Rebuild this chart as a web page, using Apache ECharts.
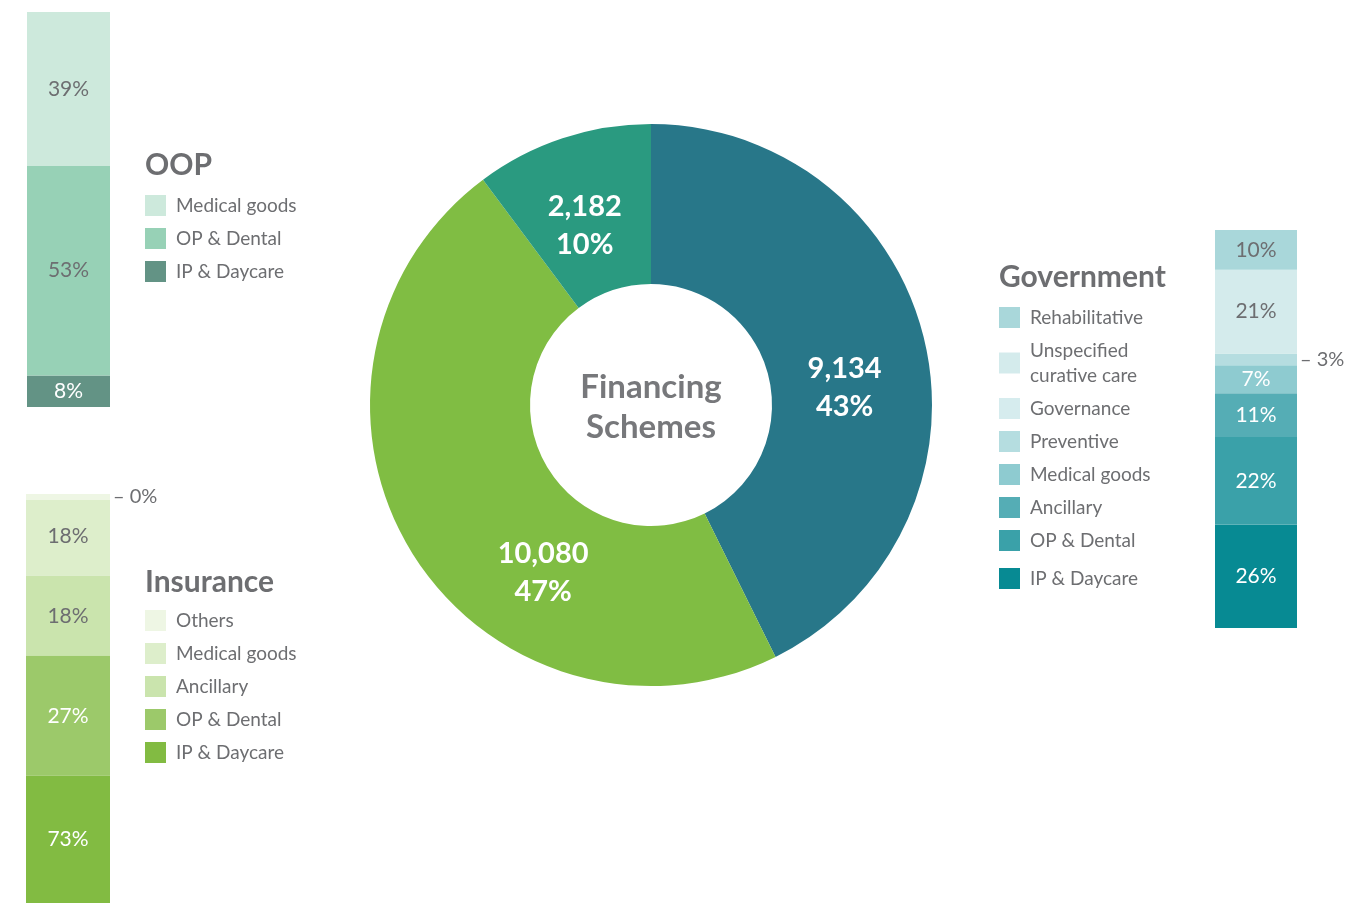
<!DOCTYPE html>
<html>
<head>
<meta charset="utf-8">
<title>Financing Schemes</title>
<script src="https://cdn.jsdelivr.net/npm/echarts@6/dist/echarts.min.js"></script>
<style>
    html, body { margin: 0; padding: 0; background: #fff; }
    #chart { width: 1369px; height: 903px; }
</style>
</head>
<body>
<div id="chart"></div>
<script>
// donut: financing schemes
const schemeNames = ['Government', 'Insurance', 'OOP'];
const schemeValues = [9134, 10080, 2182];

// breakdowns, listed top to bottom as in the legends
const oopItems = ['Medical goods', 'OP & Dental', 'IP & Daycare'];
const oopShares = [39, 53, 8];

const insItems = ['Others', 'Medical goods', 'Ancillary', 'OP & Dental', 'IP & Daycare'];
const insShares = [0.4, 18, 18, 27, 73];

const govItems = ['Rehabilitative', 'Unspecified curative care', 'Governance', 'Preventive', 'Medical goods', 'Ancillary', 'OP & Dental', 'IP & Daycare'];
const govShares = [10, 21, 0, 3, 7, 11, 22, 26];

// colours
const pieColors = ['#287789', '#80bd43', '#2a9a80'];
const pieLabelOffsets = [[-5, 29], [66, 61], [-2, 14]];
const oopColors = ['#cde9dc', '#97d1b6', '#639385'];
const oopLabelColors = ['#6d6e71', '#6d6e71', '#ffffff'];
const insColors = ['#eef6e4', '#ddeecb', '#cae4ad', '#9cc96a', '#82bb42'];
const insLabelColors = ['#6d6e71', '#6d6e71', '#6d6e71', '#ffffff', '#ffffff'];
const govColors = ['#a9d7da', '#d4ebec', '#d6ecee', '#b5dde0', '#8ecbd0', '#55adb5', '#3aa1a9', '#078a93'];
const govLabelColors = ['#6d6e71', '#6d6e71', '#6d6e71', '#6d6e71', '#ffffff', '#ffffff', '#ffffff', '#ffffff'];

const gray = '#6d6e71';
const font = 'Lato';

function sum(arr) {
    return arr.reduce((a, b) => a + b, 0);
}

function barSeries(group, items, shares, colors, labelColors, idx, fromTop) {
    const out = [];
    const order = items.map((_, i) => i);
    if (!fromTop) {
        order.reverse();
    }
    order.forEach((i) => {
        out.push({
            type: 'bar',
            name: group + '|' + items[i],
            stack: group,
            xAxisIndex: idx,
            yAxisIndex: idx,
            barWidth: '100%',
            data: [shares[i]],
            itemStyle: {color: colors[i]},
            label: {
                show: shares[i] > 0,
                position: 'inside',
                formatter: Math.round(shares[i]) + '%',
                color: labelColors[i],
                fontSize: 21,
                fontFamily: font,
            },
            silent: true,
        });
    });
    return out;
}

const oopSeries = barSeries('OOP', oopItems, oopShares, oopColors, oopLabelColors, 0, false);
// insurance bar hangs from the top and runs off the bottom of the page
const insSeries = barSeries('Insurance', insItems, insShares, insColors, insLabelColors, 1, true);
const govSeries = barSeries('Government', govItems, govShares, govColors, govLabelColors, 2, false);

// small slices get their label outside, with a dash
const outside = (s) => {
    s.label.position = 'right';
    s.label.distance = 3;
    s.label.color = gray;
    s.label.fontSize = 20;
    s.label.formatter = '\u2013 ' + s.label.formatter;
};
insSeries.forEach((s) => {
    if (s.name === 'Insurance|Others') {
        s.barMinHeight = 6;
        s.z = 3;
        outside(s);
    }
});
govSeries.forEach((s) => {
    if (s.name === 'Government|Preventive') {
        outside(s);
    }
});

const legendCommon = {
    orient: 'vertical',
    itemWidth: 21,
    itemHeight: 21,
    itemGap: 8,
    icon: 'rect',
    padding: 0,
    selectedMode: false,
    textStyle: {fontSize: 19, color: gray, fontFamily: font, lineHeight: 25, padding: [0, 0, 0, 5]},
    formatter: (name) => name.split('|')[1].replace('Unspecified curative care', 'Unspecified\ncurative care'),
};

const titleStyle = {fontSize: 30, fontWeight: 'bold', color: gray, fontFamily: font};

const govNames = govItems.map((n) => 'Government|' + n);

const chart = echarts.init(document.getElementById('chart'));
chart.setOption({
    animation: false,
    backgroundColor: '#fff',
    title: [
        {text: 'OOP', left: 145, top: 150, padding: 0, textStyle: titleStyle},
        {text: 'Insurance', left: 145, top: 567, padding: 0, textStyle: titleStyle},
        {text: 'Government', left: 999, top: 262, padding: 0, textStyle: titleStyle},
    ],
    legend: [
        Object.assign({data: oopItems.map((n) => 'OOP|' + n), left: 145, top: 193}, legendCommon),
        Object.assign({data: insItems.map((n) => 'Insurance|' + n), left: 145, top: 608}, legendCommon),
        Object.assign({data: govNames.slice(0, 7), left: 999, top: 305}, legendCommon),
        Object.assign({data: govNames.slice(7), left: 999, top: 566}, legendCommon),
    ],
    grid: [
        {left: 27, top: 12, width: 83, height: 395},
        {left: 26, top: 494, width: 84, height: 409},
        {left: 1215, top: 230, width: 82, height: 398},
    ],
    xAxis: [0, 1, 2].map((i) => ({type: 'category', data: [''], show: false, gridIndex: i})),
    yAxis: [
        {type: 'value', min: 0, max: sum(oopShares), show: false, gridIndex: 0},
        {type: 'value', min: 0, max: 92, inverse: true, show: false, gridIndex: 1},
        {type: 'value', min: 0, max: sum(govShares), show: false, gridIndex: 2},
    ],
    graphic: [
        {
            type: 'text',
            x: 651,
            y: 407,
            style: {
                text: 'Financing\nSchemes',
                align: 'center',
                verticalAlign: 'middle',
                fontSize: 33,
                lineHeight: 40,
                fontWeight: 'bold',
                fontFamily: font,
                fill: '#77787b',
            },
        },
    ],
    series: [
        {
            type: 'pie',
            center: [651, 405],
            radius: [121, 281],
            startAngle: 90,
            clockwise: true,
            silent: true,
            data: schemeNames.map((n, i) => ({
                name: n,
                value: schemeValues[i],
                itemStyle: {color: pieColors[i]},
                label: {offset: pieLabelOffsets[i]},
            })),
            itemStyle: {borderWidth: 0},
            label: {
                show: true,
                position: 'inside',
                formatter: (p) => p.value.toLocaleString('en-US') + '\n' + Math.round(p.percent) + '%',
                color: '#fff',
                fontSize: 29,
                lineHeight: 38,
                fontWeight: 'bold',
                fontFamily: font,
            },
            labelLine: {show: false},
        },
    ].concat(oopSeries, insSeries, govSeries),
});
</script>
</body>
</html>
